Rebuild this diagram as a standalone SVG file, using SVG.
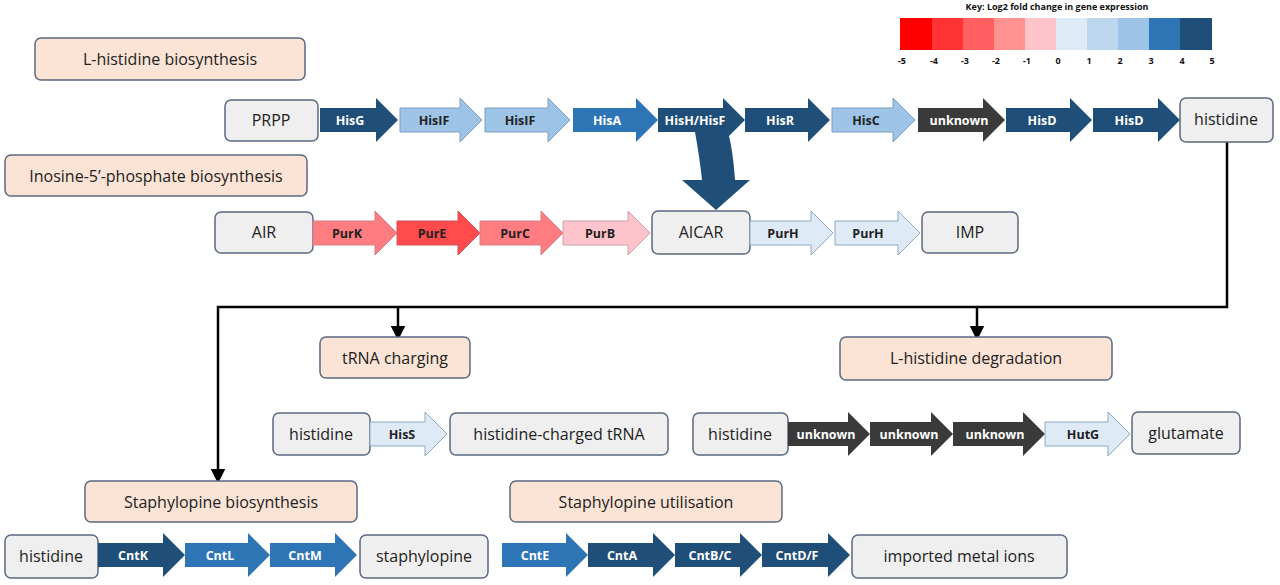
<svg xmlns="http://www.w3.org/2000/svg" width="1280" height="585" viewBox="0 0 1280 585">
<style>
text{font-family:"Open Sans","Liberation Sans",sans-serif;}
.box{fill:#efefef;stroke:#5a6a80;stroke-width:1.5;}
.lab{fill:#fbe3d5;stroke:#5a6a80;stroke-width:1.5;}
.bt{font-size:16px;fill:#222;text-anchor:middle;}
.at{font-size:12.5px;font-weight:bold;text-anchor:middle;}
.w{fill:#fff}.k{fill:#222}
.c5{fill:#1f4e79}.c4{fill:#2e75b6}.c2{fill:#9dc3e6;stroke:#7f9fc0;stroke-width:1}.c1{fill:#deebf7;stroke:#8fa6c0;stroke-width:1}.cu{fill:#3a3a3a}
.r4{fill:#ff4b4b;stroke:#d05060;stroke-width:1}.r3{fill:#ff7c80;stroke:#d08088;stroke-width:1}.r1{fill:#ffc4cb;stroke:#c8a0a8;stroke-width:1}
.ln{stroke:#000;stroke-width:2.5;fill:none}
.kt{font-size:9px;font-weight:bold;text-anchor:middle;fill:#111}
</style>
<defs><marker id="m" markerWidth="6" markerHeight="6" refX="3" refY="3" orient="auto"><path d="M0,0 L6,3 L0,6 Z" fill="#000"/></marker></defs>
<g id="key">
<text x="1057" y="10" class="kt">Key: Log2 fold change in gene expression</text>
<rect x="900" y="18" width="32" height="32" fill="#ff0000"/>
<rect x="932" y="18" width="31" height="32" fill="#ff3333"/>
<rect x="963" y="18" width="31" height="32" fill="#ff5f5f"/>
<rect x="994" y="18" width="31" height="32" fill="#ff9191"/>
<rect x="1025" y="18" width="31" height="32" fill="#ffc4cb"/>
<rect x="1056" y="18" width="31" height="32" fill="#deebf7"/>
<rect x="1087" y="18" width="31" height="32" fill="#bdd7ee"/>
<rect x="1118" y="18" width="31" height="32" fill="#9dc3e6"/>
<rect x="1149" y="18" width="31" height="32" fill="#2e75b6"/>
<rect x="1180" y="18" width="32" height="32" fill="#1f4e79"/>
<g class="kt"><text x="902" y="64">-5</text><text x="934" y="64">-4</text><text x="965" y="64">-3</text><text x="996" y="64">-2</text><text x="1027" y="64">-1</text><text x="1058" y="64">0</text><text x="1089" y="64">1</text><text x="1120" y="64">2</text><text x="1151" y="64">3</text><text x="1182" y="64">4</text><text x="1212" y="64">5</text></g>
</g>
<g id="connectors">
<path class="ln" d="M1227,142 V307 H218 V476" marker-end="url(#m)"/>
<path class="ln" d="M398,307 V333" marker-end="url(#m)"/>
<path class="ln" d="M977,307 V333" marker-end="url(#m)"/>
<path d="M695,132 Q700,160 702,180 H682 L716,210 L750,180 H735 Q733,150 728,132 Z" fill="#1f4e79"/>
</g>
<g id="labels">
<rect class="lab" x="35" y="38" width="270" height="42" rx="6"/><text class="bt" x="170" y="65">L-histidine biosynthesis</text>
<rect class="lab" x="5" y="155" width="302" height="41" rx="6"/><text class="bt" x="156" y="182">Inosine-5’-phosphate biosynthesis</text>
<rect class="lab" x="320" y="337" width="150" height="41" rx="6"/><text class="bt" x="395" y="364">tRNA charging</text>
<rect class="lab" x="840" y="337" width="272" height="43" rx="6"/><text class="bt" x="976" y="364">L-histidine degradation</text>
<rect class="lab" x="85" y="481" width="272" height="41" rx="6"/><text class="bt" x="221" y="508">Staphylopine biosynthesis</text>
<rect class="lab" x="510" y="481" width="272" height="41" rx="6"/><text class="bt" x="646" y="508">Staphylopine utilisation</text>
</g>
<g id="row1">
<rect class="box" x="225" y="100" width="93" height="41" rx="6"/><text class="bt" x="271" y="126">PRPP</text>
<path class="c5" d="M320,108H376V98L398,120L376,142V132H320Z"/><text class="at w" x="350" y="125">HisG</text>
<path class="c2" d="M400,108H460V98L482,120L460,142V132H400Z"/><text class="at k" x="434" y="125">HisIF</text>
<path class="c2" d="M485,108H548V98L570,120L548,142V132H485Z"/><text class="at k" x="520" y="125">HisIF</text>
<path class="c4" d="M573,108H636V98L658,120L636,142V132H573Z"/><text class="at w" x="607" y="125">HisA</text>
<path class="c5" d="M658,108H723V98L745,120L723,142V132H658Z"/><text class="at w" x="695" y="125">HisH/HisF</text>
<path class="c5" d="M745,108H808V98L830,120L808,142V132H745Z"/><text class="at w" x="780" y="125">HisR</text>
<path class="c2" d="M832,108H893V98L915,120L893,142V132H832Z"/><text class="at k" x="866" y="125">HisC</text>
<path class="cu" d="M918,108H983V98L1005,120L983,142V132H918Z"/><text class="at w" x="959" y="125">unknown</text>
<path class="c5" d="M1006,108H1070V98L1092,120L1070,142V132H1006Z"/><text class="at w" x="1042" y="125">HisD</text>
<path class="c5" d="M1093,108H1158V98L1180,120L1158,142V132H1093Z"/><text class="at w" x="1129" y="125">HisD</text>
<rect class="box" x="1180" y="98" width="93" height="44" rx="6"/><text class="bt" x="1226" y="125">histidine</text>
</g>
<g id="row2">
<rect class="box" x="215" y="212" width="98" height="41" rx="6"/><text class="bt" x="264" y="238">AIR</text>
<path class="r3" d="M313,221H375V211L397,233L375,255V245H313Z"/><text class="at k" x="347" y="238">PurK</text>
<path class="r4" d="M397,221H458V211L480,233L458,255V245H397Z"/><text class="at k" x="432" y="238">PurE</text>
<path class="r3" d="M480,221H541V211L563,233L541,255V245H480Z"/><text class="at k" x="515" y="238">PurC</text>
<path class="r1" d="M563,221H628V211L650,233L628,255V245H563Z"/><text class="at k" x="600" y="238">PurB</text>
<rect class="box" x="652" y="211" width="98" height="43" rx="6"/><text class="bt" x="701" y="238">AICAR</text>
<path class="c1" d="M750,221H811V211L833,233L811,255V245H750Z"/><text class="at k" x="783" y="238">PurH</text>
<path class="c1" d="M835,221H898V211L920,233L898,255V245H835Z"/><text class="at k" x="868" y="238">PurH</text>
<rect class="box" x="922" y="212" width="96" height="41" rx="6"/><text class="bt" x="970" y="238">IMP</text>
</g>
<g id="row3">
<rect class="box" x="273" y="413" width="97" height="42" rx="6"/><text class="bt" x="321" y="440">histidine</text>
<path class="c1" d="M370,422H425V412L447,434L425,456V446H370Z"/><text class="at k" x="402" y="439">HisS</text>
<rect class="box" x="450" y="413" width="218" height="42" rx="6"/><text class="bt" x="559" y="440">histidine-charged tRNA</text>
<rect class="box" x="693" y="413" width="95" height="42" rx="6"/><text class="bt" x="740" y="440">histidine</text>
<path class="cu" d="M788,422H848V412L870,434L848,456V446H788Z"/><text class="at w" x="826" y="439">unknown</text>
<path class="cu" d="M870,422H931V412L953,434L931,456V446H870Z"/><text class="at w" x="909" y="439">unknown</text>
<path class="cu" d="M953,422H1023V412L1045,434L1023,456V446H953Z"/><text class="at w" x="995" y="439">unknown</text>
<path class="c1" d="M1045,422H1108V412L1130,434L1108,456V446H1045Z"/><text class="at k" x="1083" y="439">HutG</text>
<rect class="box" x="1132" y="412" width="108" height="42" rx="6"/><text class="bt" x="1186" y="439">glutamate</text>
</g>
<g id="row4">
<rect class="box" x="5" y="535" width="93" height="43" rx="6"/><text class="bt" x="51" y="562">histidine</text>
<path class="c5" d="M98,543H163V533L185,555L163,577V567H98Z"/><text class="at w" x="133" y="560">CntK</text>
<path class="c4" d="M185,543H248V533L270,555L248,577V567H185Z"/><text class="at w" x="220" y="560">CntL</text>
<path class="c4" d="M270,543H335V533L357,555L335,577V567H270Z"/><text class="at w" x="305" y="560">CntM</text>
<rect class="box" x="360" y="535" width="128" height="43" rx="6"/><text class="bt" x="424" y="562">staphylopine</text>
<path class="c4" d="M502,543H566V533L588,555L566,577V567H502Z"/><text class="at w" x="535" y="560">CntE</text>
<path class="c5" d="M588,543H653V533L675,555L653,577V567H588Z"/><text class="at w" x="622" y="560">CntA</text>
<path class="c5" d="M675,543H740V533L762,555L740,577V567H675Z"/><text class="at w" x="710" y="560">CntB/C</text>
<path class="c5" d="M762,543H828V533L850,555L828,577V567H762Z"/><text class="at w" x="797" y="560">CntD/F</text>
<rect class="box" x="852" y="535" width="215" height="43" rx="6"/><text class="bt" x="959" y="562">imported metal ions</text>
</g>
</svg>
